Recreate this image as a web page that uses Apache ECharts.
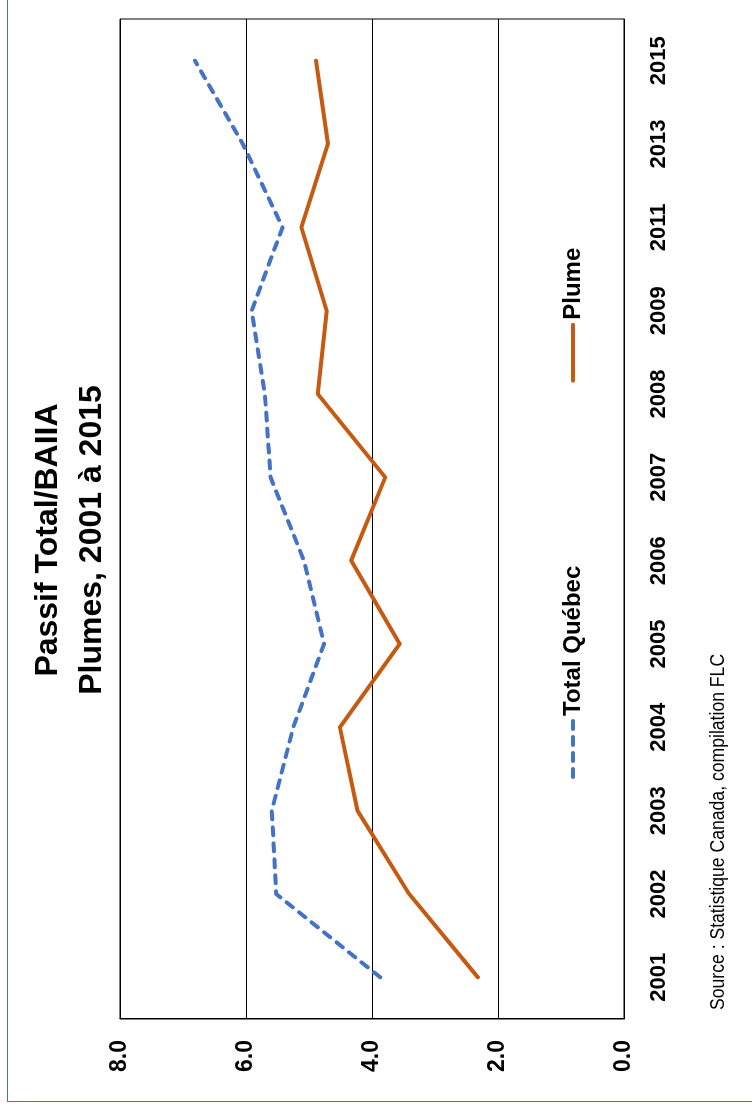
<!DOCTYPE html>
<html>
<head>
<meta charset="utf-8">
<script src="https://cdn.jsdelivr.net/npm/echarts@6/dist/echarts.min.js"></script>
<style>
html,body{margin:0;padding:0;width:752px;height:1110px;overflow:hidden;background:#fff;}
#wrap{position:absolute;left:0;top:0;width:1110px;height:752px;transform-origin:0 0;transform:translate(0,1110px) rotate(-90deg);}
#frameL{position:absolute;left:7px;top:0;width:1px;height:1102px;background:#4472C4;}
#frameB{position:absolute;left:7px;top:1101px;width:745px;height:1px;background:#4472C4;}
</style>
</head>
<body>
<div id="wrap"></div>
<div id="frameL"></div>
<div id="frameB"></div>
<script>
const categories = ['2001','2002','2003','2004','2005','2006','2007','2008','2009','2011','2013','2015'];
const totalQuebec = [3.87, 5.52, 5.59, 5.25, 4.76, 5.08, 5.61, 5.70, 5.91, 5.42, 6.05, 6.81];
const plume = [2.32, 3.41, 4.23, 4.51, 3.56, 4.33, 3.79, 4.86, 4.72, 5.12, 4.70, 4.89];
const seriesNames = ['Total Québec', 'Plume'];
const titleLines = ['Passif Total/BAIIA', 'Plumes, 2001 à 2015'];
const sourceText = 'Source : Statistique Canada, compilation FLC';

const narrow = "'Liberation Sans Narrow', 'Arial Narrow', 'Liberation Sans', Arial, sans-serif";
const sans = "'Liberation Sans', Arial, sans-serif";
const BLUE = '#4472C4', ORANGE = '#C55A11';

const chart = echarts.init(document.getElementById('wrap'), null, {width:1110, height:752, renderer:'canvas'});
chart.setOption({
  animation: false,
  backgroundColor: '#fff',
  title: {
    text: titleLines.join('\n'),
    left: 565, top: 21, textAlign: 'center',
    textStyle: {fontFamily: sans, fontSize: 32, fontWeight: 'bold', color: '#000', lineHeight: 44}
  },
  legend: {
    data: [
      {name: seriesNames[0], itemStyle: {opacity: 0}, lineStyle: {color: BLUE, width: 4, type: [8, 8], cap: 'round'}},
      {name: seriesNames[1], itemStyle: {opacity: 0}, lineStyle: {color: ORANGE, width: 4, cap: 'round'}}
    ],
    left: 326, top: 556,
    itemWidth: 56, itemHeight: 14, itemGap: 183,
    textStyle: {fontFamily: sans, fontSize: 24, fontWeight: 'bold', color: '#000'}
  },
  grid: {left: 91, right: 19, top: 120, bottom: 128, show: true, borderColor: '#000', borderWidth: 1, containLabel: false},
  xAxis: {
    type: 'category', data: categories, boundaryGap: true,
    axisLine: {show: true, lineStyle: {color: '#000', width: 1}},
    axisTick: {show: false},
    axisLabel: {fontFamily: narrow, fontSize: 22, fontWeight: 'bold', color: '#000', margin: 24, interval: 0}
  },
  yAxis: {
    type: 'value', min: 0, max: 8, interval: 2,
    axisLine: {show: true, lineStyle: {color: '#000', width: 1}},
    axisTick: {show: false},
    splitLine: {show: true, lineStyle: {color: '#000', width: 1}},
    axisLabel: {fontFamily: narrow, fontSize: 23, fontWeight: 'bold', color: '#000', margin: 21,
      formatter: v => v.toFixed(1)}
  },
  graphic: [{
    type: 'text', x: 100, y: 708, scaleX: 0.88,
    style: {text: sourceText, font: "20px " + sans, fill: '#000'}
  }],
  series: [
    {name: seriesNames[0], type: 'line', data: totalQuebec, symbol: 'none', color: BLUE,
      lineStyle: {color: BLUE, width: 4, type: [8, 8], cap: 'round', join: 'round'}},
    {name: seriesNames[1], type: 'line', data: plume, symbol: 'none', color: ORANGE,
      lineStyle: {color: ORANGE, width: 4, cap: 'round', join: 'round'}}
  ]
});
</script>
</body>
</html>
